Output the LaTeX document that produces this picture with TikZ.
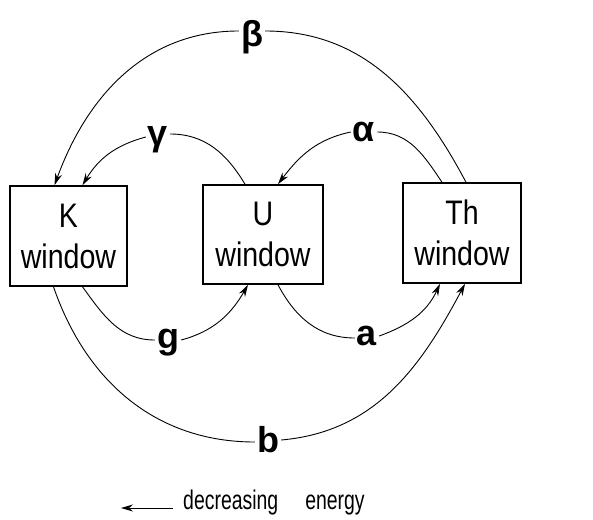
\documentclass[tikz,border=0pt]{standalone}
\usepackage{fontspec}
\setmainfont{Liberation Sans}[FakeStretch=0.84]
\newfontfamily\labfont{Liberation Sans}
\newfontfamily\capfont{Liberation Sans}[FakeStretch=0.72]
\usetikzlibrary{arrows.meta}
\begin{document}
\begin{tikzpicture}[x=1pt,y=1pt,
  win/.style={draw,line width=1.6pt,inner sep=0pt,minimum width=#1,align=center,font=\fontsize{34}{41}\selectfont},
  lab/.style={inner sep=2pt,font=\labfont\fontsize{36}{36}\selectfont\bfseries},
  conn/.style={line width=0.9pt},
  tip/.style={-{Stealth[length=12pt,width=7pt]}}]
\useasboundingbox (0,0) rectangle (593,-519);
\node[win=117pt,minimum height=100pt] (K) at (68.5,-236) {K\\window};
\node[win=120pt,minimum height=99pt] (U) at (263,-234.5) {U\\window};
\node[win=118pt,minimum height=100pt] (Th) at (462,-233) {Th\\window};
\node[lab] (beta) at (252,-37) {β};
\node[lab] (gamma) at (158,-140) {γ};
\node[lab] (alpha) at (364,-132) {α};
\node[lab] (g) at (168,-343) {g};
\node[lab] (a) at (367,-336) {a};
\node[lab] (b) at (268,-440) {b};
% beta
\draw[conn] ([xshift=4pt]Th.north) to[out=118,in=0] ([yshift=6pt]beta.east);
\draw[conn,tip] ([yshift=6pt]beta.west) to[out=180,in=70] ([xshift=-14pt]K.north);
% gamma
\draw[conn] ([xshift=-18pt]U.north) to[out=121,in=0] ([yshift=6pt]gamma.east);
\draw[conn,tip] ([yshift=3pt]gamma.west) to[out=195,in=59] ([xshift=14pt]K.north);
% alpha
\draw[conn] ([xshift=-20pt]Th.north) to[out=124,in=0] (alpha.east);
\draw[conn,tip] (alpha.west) to[out=192,in=53] ([xshift=15pt]U.north);
% g
\draw[conn] ([xshift=14pt]K.south) to[out=-54,in=180] ([yshift=3pt]g.west);
\draw[conn,tip] ([yshift=3pt]g.east) to[out=15,in=240] ([xshift=-15pt]U.south);
% a
\draw[conn] ([xshift=15pt]U.south) to[out=-62,in=180] ([yshift=-2pt]a.west);
\draw[conn,tip] (a.east) to[out=20,in=245] ([xshift=-22pt]Th.south);
% b
\draw[conn] ([xshift=-15pt]K.south) to[out=-71,in=180] ([yshift=-2pt]b.west);
\draw[conn,tip] (b.east) to[out=5,in=242] ([xshift=3pt]Th.south);
% caption
\node[anchor=west,inner sep=0pt,font=\capfont\fontsize{27}{27}\selectfont] (cap) at (183,-503) {decreasing\quad energy};
\coordinate (capend) at (121,-508);
\draw[conn,-{Stealth[length=12pt,width=7pt]}] ([xshift=-10pt,yshift=-5pt]cap.west) -- (capend);
\end{tikzpicture}
\end{document}
